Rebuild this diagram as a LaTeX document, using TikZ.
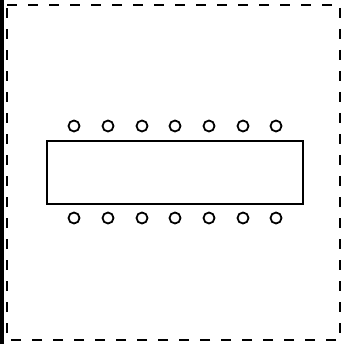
\documentclass[tikz,border=0pt]{standalone}
\begin{document}
\begin{tikzpicture}[x=1pt,y=-1pt,
  frame/.style={draw=black,line width=2pt,dash pattern=on 10pt off 11pt},
  table/.style={draw=black,line width=2pt},
  seat/.style={draw=black,line width=1.8pt,circle,inner sep=0pt,minimum size=11pt}]
\useasboundingbox (0,0) rectangle (344,344);
\fill[black] (0,0) rectangle (4,344);
\draw[frame] (7,5) -- (340,5) -- (340,340) -- (7,340) -- cycle;
\node[table,minimum width=256pt,minimum height=63pt,inner sep=0pt] (t) at (175,172.5) {};
\foreach \i [count=\k] in {74,108,142,175,209,243,276}{
  \node[seat] (a\k) at (\i,126) {};
  \node[seat] (b\k) at (\i,218) {};
}
\end{tikzpicture}
\end{document}
